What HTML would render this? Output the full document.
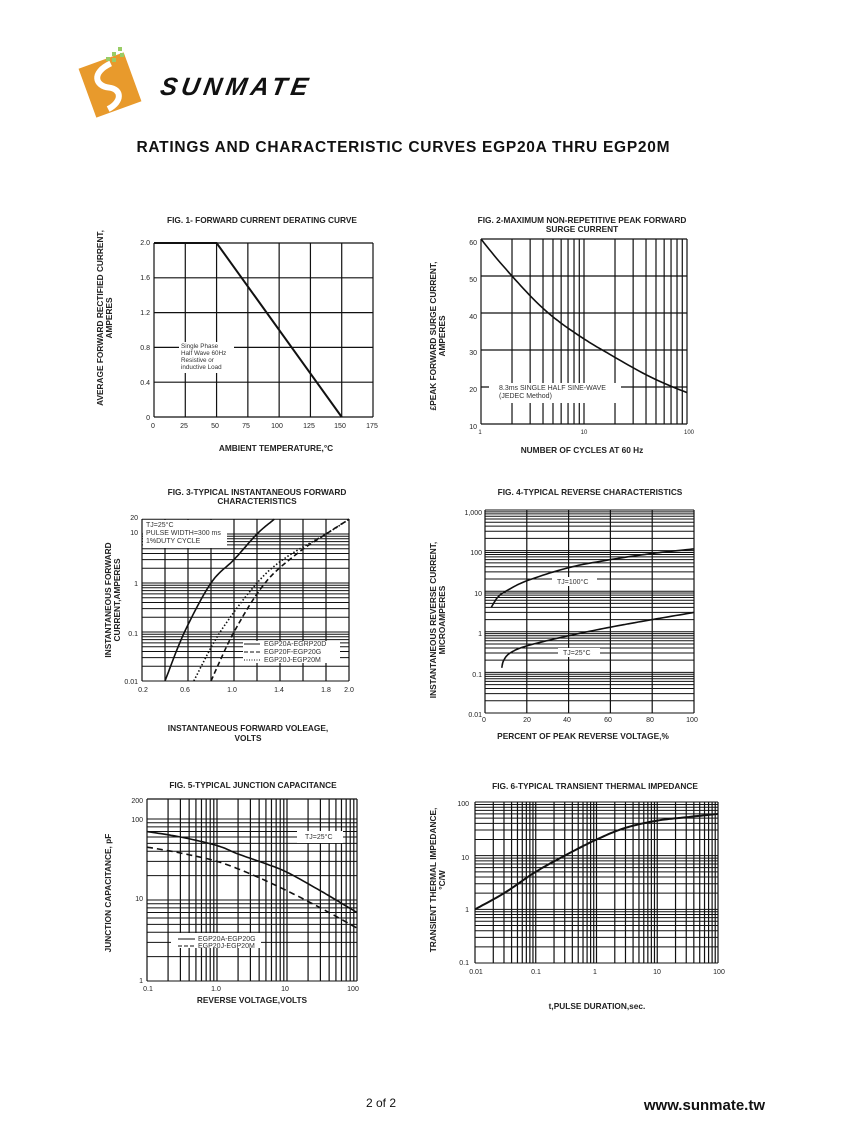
<!DOCTYPE html>
<html><head><meta charset="utf-8"><style>
html,body{margin:0;padding:0;background:#fff}
svg{display:block}
text{font-family:"Liberation Sans",sans-serif;fill:#222}
.t{font-size:7px;fill:#333}
.h{font-size:8.3px;font-weight:bold}
.a{font-size:8.3px;font-weight:bold}
.s{font-size:6.3px;fill:#333}
</style></head><body>
<svg id="s" width="847" height="1125" viewBox="0 0 847 1125" xmlns="http://www.w3.org/2000/svg">
<g id="g"></g>
<!-- logo -->
<g transform="translate(110,85) rotate(-20)">
<rect x="-24" y="-26" width="48" height="52" fill="#e89a2c"/>
<path d="M8,-20 C-14,-18 -14,-4 -2,2 C10,8 6,20 -10,22" stroke="#fff" stroke-width="6" fill="none"/>
</g>
<g fill="#9c6">
<rect x="112" y="52" width="4" height="4"/><rect x="118" y="47" width="4" height="4"/><rect x="112" y="58" width="4" height="4"/><rect x="106" y="57" width="4" height="4"/><rect x="120" y="53" width="4" height="4"/>
</g>
<text x="160" y="95" style="font-size:25px;font-weight:bold;font-style:italic;fill:#111;letter-spacing:1px;font-family:'Liberation Sans',sans-serif" transform="skewX(-10) translate(16,0)" textLength="148">SUNMATE</text>
<text x="403" y="152" text-anchor="middle" style="font-size:15.5px;font-weight:bold;fill:#111" textLength="533">RATINGS AND CHARACTERISTIC CURVES EGP20A THRU EGP20M</text>

<!-- Fig1 text -->
<text class="h" x="262" y="223" text-anchor="middle">FIG. 1- FORWARD CURRENT DERATING CURVE</text>
<g class="t" text-anchor="end"><text x="150" y="245">2.0</text><text x="150" y="280">1.6</text><text x="150" y="315">1.2</text><text x="150" y="350">0.8</text><text x="150" y="385">0.4</text><text x="150" y="420">0</text></g>
<g class="t" text-anchor="middle"><text x="153" y="428">0</text><text x="184" y="428">25</text><text x="215" y="428">50</text><text x="246" y="428">75</text><text x="277" y="428">100</text><text x="309" y="428">125</text><text x="340" y="428">150</text><text x="372" y="428">175</text></g>
<text class="a" x="276" y="451" text-anchor="middle">AMBIENT TEMPERATURE,°C</text>
<text class="a" transform="translate(103,318) rotate(-90)" text-anchor="middle">AVERAGE FORWARD RECTIFIED CURRENT,</text>
<text class="a" transform="translate(112,318) rotate(-90)" text-anchor="middle">AMPERES</text>

<!-- Fig2 text -->
<text class="h" x="582" y="223" text-anchor="middle">FIG. 2-MAXIMUM NON-REPETITIVE PEAK FORWARD</text>
<text class="h" x="582" y="232" text-anchor="middle">SURGE CURRENT</text>
<g class="t" text-anchor="end"><text x="477" y="245">60</text><text x="477" y="282">50</text><text x="477" y="319">40</text><text x="477" y="355">30</text><text x="477" y="392">20</text><text x="477" y="429">10</text></g>
<g class="t" text-anchor="middle" style="font-size:6px"><text x="480" y="434">1</text><text x="584" y="434">10</text><text x="689" y="434">100</text></g>
<text class="a" x="582" y="453" text-anchor="middle">NUMBER OF CYCLES AT 60 Hz</text>
<text class="a" transform="translate(436,336) rotate(-90)" text-anchor="middle">£PEAK  FORWARD SURGE CURRENT,</text>
<text class="a" transform="translate(445,336) rotate(-90)" text-anchor="middle">AMPERES</text>

<!-- Fig3 text -->
<text class="h" x="257" y="495" text-anchor="middle">FIG. 3-TYPICAL INSTANTANEOUS FORWARD</text>
<text class="h" x="257" y="504" text-anchor="middle">CHARACTERISTICS</text>
<g class="t" text-anchor="end"><text x="138" y="520">20</text><text x="138" y="535">10</text><text x="138" y="586">1</text><text x="138" y="636">0.1</text><text x="138" y="684">0.01</text></g>
<g class="t" text-anchor="middle"><text x="143" y="692">0.2</text><text x="185" y="692">0.6</text><text x="232" y="692">1.0</text><text x="279" y="692">1.4</text><text x="326" y="692">1.8</text><text x="349" y="692">2.0</text></g>
<text class="a" x="248" y="731" text-anchor="middle">INSTANTANEOUS FORWARD VOLEAGE,</text>
<text class="a" x="248" y="741" text-anchor="middle">VOLTS</text>
<text class="a" transform="translate(111,600) rotate(-90)" text-anchor="middle">INSTANTANEOUS FORWARD</text>
<text class="a" transform="translate(120,600) rotate(-90)" text-anchor="middle">CURRENT,AMPERES</text>

<!-- Fig4 text -->
<text class="h" x="590" y="495" text-anchor="middle">FIG. 4-TYPICAL REVERSE CHARACTERISTICS</text>
<g class="t" text-anchor="end"><text x="482" y="515">1,000</text><text x="482" y="555">100</text><text x="482" y="596">10</text><text x="482" y="636">1</text><text x="482" y="677">0.1</text><text x="482" y="717">0.01</text></g>
<g class="t" text-anchor="middle"><text x="484" y="722">0</text><text x="527" y="722">20</text><text x="567" y="722">40</text><text x="608" y="722">60</text><text x="650" y="722">80</text><text x="692" y="722">100</text></g>
<text class="a" x="583" y="739" text-anchor="middle">PERCENT OF PEAK REVERSE VOLTAGE,%</text>
<text class="a" transform="translate(436,620) rotate(-90)" text-anchor="middle">INSTANTANEOUS REVERSE CURRENT,</text>
<text class="a" transform="translate(445,620) rotate(-90)" text-anchor="middle">MICROAMPERES</text>

<!-- Fig5 text -->
<text class="h" x="253" y="788" text-anchor="middle">FIG. 5-TYPICAL JUNCTION CAPACITANCE</text>
<g class="t" text-anchor="end"><text x="143" y="803">200</text><text x="143" y="822">100</text><text x="143" y="901">10</text><text x="143" y="983">1</text></g>
<g class="t" text-anchor="middle"><text x="148" y="991">0.1</text><text x="216" y="991">1.0</text><text x="285" y="991">10</text><text x="353" y="991">100</text></g>
<text class="a" x="252" y="1003" text-anchor="middle">REVERSE VOLTAGE,VOLTS</text>
<text class="a" transform="translate(111,893) rotate(-90)" text-anchor="middle">JUNCTION CAPACITANCE, pF</text>

<!-- Fig6 text -->
<text class="h" x="595" y="789" text-anchor="middle">FIG. 6-TYPICAL TRANSIENT THERMAL IMPEDANCE</text>
<g class="t" text-anchor="end"><text x="469" y="806">100</text><text x="469" y="860">10</text><text x="469" y="912">1</text><text x="469" y="965">0.1</text></g>
<g class="t" text-anchor="middle"><text x="476" y="974">0.01</text><text x="536" y="974">0.1</text><text x="595" y="974">1</text><text x="657" y="974">10</text><text x="719" y="974">100</text></g>
<text class="a" x="597" y="1009" text-anchor="middle">t,PULSE DURATION,sec.</text>
<text class="a" transform="translate(436,880) rotate(-90)" text-anchor="middle">TRANSIENT THERMAL IMPEDANCE,</text>
<text class="a" transform="translate(445,880) rotate(-90)" text-anchor="middle">°C/W</text>

<g id="ov"></g>
<g id="lbl">
<text class="s" x="181" y="348">Single Phase</text><text class="s" x="181" y="355">Half Wave 60Hz</text><text class="s" x="181" y="362">Resistive or</text><text class="s" x="181" y="369">inductive Load</text>
<text class="t" x="499" y="390">8.3ms SINGLE HALF SINE-WAVE</text><text class="t" x="499" y="398">(JEDEC Method)</text>
<text class="t" x="146" y="527">TJ=25°C</text><text class="t" x="146" y="535">PULSE WIDTH=300 ms</text><text class="t" x="146" y="543">1%DUTY CYCLE</text>
<text class="t" x="264" y="646">EGP20A-EGRP20D</text><text class="t" x="264" y="654">EGP20F-EGP20G</text><text class="t" x="264" y="662">EGP20J-EGP20M</text>
<text class="t" x="557" y="584">TJ=100°C</text><text class="t" x="563" y="655">TJ=25°C</text>
<text class="t" x="305" y="839">TJ=25°C</text>
<text class="t" x="198" y="941">EGP20A-EGP20G</text><text class="t" x="198" y="948">EGP20J-EGP20M</text>
</g>
<text x="381" y="1107" text-anchor="middle" style="font-size:12px;fill:#111">2 of 2</text>
<text x="765" y="1110" text-anchor="end" style="font-size:15px;font-weight:bold;fill:#111">www.sunmate.tw</text>
</svg>
<script>
var NS="http://www.w3.org/2000/svg",G=document.getElementById('g'),OV=document.getElementById('ov');
function el(p,t,a){var e=document.createElementNS(NS,t);for(var k in a)e.setAttribute(k,a[k]);p.appendChild(e);return e;}
function L(x1,y1,x2,y2,w){el(G,'line',{x1:x1,y1:y1,x2:x2,y2:y2,stroke:'#111','stroke-width':w||1});}
function P(pts,w,d,p){el(p||G,'path',{d:'M'+pts.map(function(q){return q[0].toFixed(1)+','+q[1].toFixed(1)}).join('L'),fill:'none',stroke:'#111','stroke-width':w||1.6,'stroke-dasharray':d||'none'});}
function R(x,y,w,h){el(OV,'rect',{x:x,y:y,width:w,height:h,fill:'#fff'});}
function lg(v){return Math.log(v)/Math.LN10;}
function logVals(a,b){var r=[];for(var e=Math.floor(lg(a));e<=Math.ceil(lg(b));e++)for(var m=1;m<10;m++){var v=m*Math.pow(10,e);if(v>=a*0.999&&v<=b*1.001)r.push(v);}return r;}
function smooth(fx,fy,pts,n,logx){
 var P2=pts.map(function(p){return [logx?lg(p[0]):p[0],lg(p[1])];});var out=[];
 for(var i=0;i<P2.length-1;i++){var p0=P2[Math.max(0,i-1)],p1=P2[i],p2=P2[i+1],p3=P2[Math.min(P2.length-1,i+2)];
  for(var j=0;j<n;j++){var t=j/n,t2=t*t,t3=t2*t;var f=function(k){return 0.5*((2*p1[k])+(-p0[k]+p2[k])*t+(2*p0[k]-5*p1[k]+4*p2[k]-p3[k])*t2+(-p0[k]+3*p1[k]-3*p2[k]+p3[k])*t3);};
   var x=f(0),y=f(1);out.push([fx(logx?Math.pow(10,x):x),fy(Math.pow(10,y))]);}}
 var l=pts[pts.length-1];out.push([fx(l[0]),fy(l[1])]);return out;}
// Fig1
(function(){var l=154,r=373,t=243,b=417;var X=function(v){return l+(r-l)*v/175},Y=function(v){return b-(b-t)*v/2};
for(var v=0;v<=175;v+=25)L(X(v),t,X(v),b,1.2);for(var u=0;u<=2.01;u+=0.4)L(l,Y(u),r,Y(u),1.2);
R(179,342,55,31);P([[X(0),Y(2)],[X(50),Y(2)],[X(150),Y(0)]],2);})();
// Fig2
(function(){var l=481,r=687,t=239,b=424;var X=function(v){return l+(r-l)*lg(v)/2},Y=function(v){return b-(b-t)*(v-10)/50};
logVals(1,100).forEach(function(v){L(X(v),t,X(v),b,1.2)});for(var u=10;u<=60;u+=10)L(l,Y(u),r,Y(u),1.2);
R(489,383,132,20);
P(smooth(X,Y,[[1,60],[2,50],[4.5,40],[10,33],[20,28],[50,22],[100,18.5]],12,true),1.6);})();
// Fig3
(function(){var l=142,r=349,t=519,b=681;var X=function(v){return l+(r-l)*(v-0.2)/1.8},Y=function(v){return 583-49*lg(v)};
for(var v=0.2;v<=2.01;v+=0.2)L(X(v),t,X(v),b,1.2);logVals(0.01,20).forEach(function(u){L(l,Y(u),r,Y(u),1)});
R(143,520,84,28);R(243,641,97,22);
var sp=function(a){return smooth(X,Y,a,12,false)};
P(sp([[0.4,0.01],[0.57,0.1],[0.8,1],[1.0,3],[1.2,10],[1.35,20]]),1.6);
P(sp([[0.8,0.01],[1.0,0.1],[1.27,1],[1.55,4],[1.8,10],[2.0,20]]),1.6,'5,3');
P(sp([[0.65,0.01],[0.88,0.1],[1.2,1],[1.45,3.3],[1.8,10],[2.0,20]]),1.6,'1.5,2');
el(OV,'line',{x1:244,y1:644,x2:260,y2:644,stroke:'#111'});
el(OV,'line',{x1:244,y1:652,x2:260,y2:652,stroke:'#111','stroke-dasharray':'4,2'});
el(OV,'line',{x1:244,y1:660,x2:260,y2:660,stroke:'#111','stroke-dasharray':'1,1.5'});})();
// Fig4
(function(){var l=485,r=694,t=510,b=713;var X=function(v){return l+(r-l)*v/100},Y=function(v){return b-(b-t)*(lg(v)+2)/5};
for(var v=0;v<=100;v+=20)L(X(v),t,X(v),b,1.2);logVals(0.01,1000).forEach(function(u){L(l,Y(u),r,Y(u),1)});
R(552,577,45,9);R(558,648,42,9);
P(smooth(X,Y,[[3,4],[6,7],[10,10],[20,18],[40,38],[60,60],[80,85],[100,110]],12,false),1.6);
P(smooth(X,Y,[[8,0.13],[9,0.2],[12,0.3],[20,0.45],[40,0.8],[60,1.3],[80,2],[100,3]],12,false),1.6);})();
// Fig5
(function(){var l=147,r=357,t=799,b=981;var X=function(v){return l+(r-l)*(lg(v)+1)/3},Y=function(v){return Math.max(t,b-81*lg(v))};
logVals(0.1,100).forEach(function(v){L(X(v),t,X(v),b,1.2)});logVals(1,200).forEach(function(u){L(l,Y(u),r,Y(u),1)});L(l,t,r,t,1.2);
R(297,831,46,12);R(171,933,90,15);
P(smooth(X,Y,[[0.1,70],[0.3,60],[1,47],[2,37],[5,28],[10,22],[30,13],[100,7]],12,true),1.6);
P(smooth(X,Y,[[0.1,45],[0.3,38],[1,30],[3,21],[10,13],[30,8],[100,4.5]],12,true),1.6,'6,4');
el(OV,'line',{x1:178,y1:939,x2:195,y2:939,stroke:'#111'});el(OV,'line',{x1:178,y1:946,x2:195,y2:946,stroke:'#111','stroke-dasharray':'4,2'});})();
// Fig6
(function(){var l=475,r=718,t=802,b=963;var X=function(v){return l+(r-l)*(lg(v)+2)/4},Y=function(v){return b-(b-t)*(lg(v)+1)/3};
logVals(0.01,100).forEach(function(v){L(X(v),t,X(v),b,1.2)});logVals(0.1,100).forEach(function(u){L(l,Y(u),r,Y(u),1)});
P(smooth(X,Y,[[0.01,1],[0.03,2],[0.1,5],[0.3,10],[1,20],[3,33],[10,45],[30,52],[100,60]],12,true),2);})();
</script>
</body></html>
